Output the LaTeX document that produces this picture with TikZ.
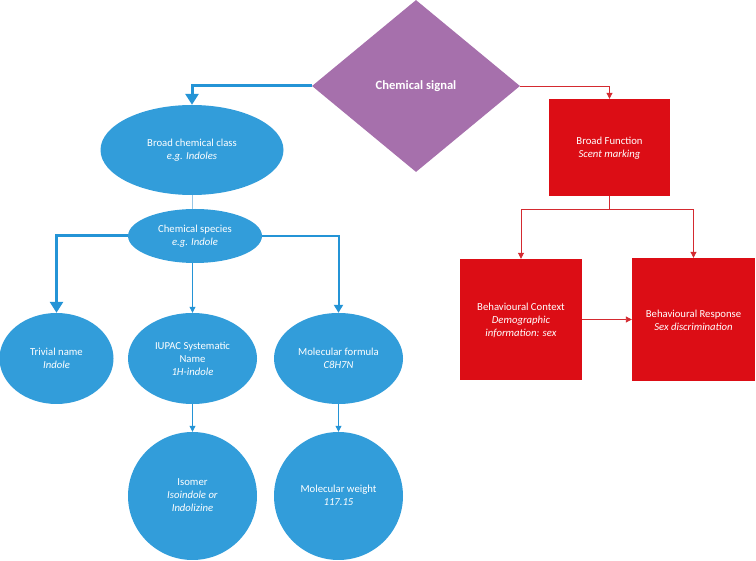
\documentclass[tikz,border=0pt]{standalone}
\usepackage{fontspec}
\setmainfont{Carlito}
\usetikzlibrary{shapes.geometric,arrows.meta}
\definecolor{cblue}{RGB}{50,157,218}
\definecolor{lblue}{RGB}{36,148,214}
\definecolor{pblue}{RGB}{150,198,230}
\definecolor{cpurple}{RGB}{166,112,172}
\definecolor{cred}{RGB}{220,13,21}
\definecolor{lred}{RGB}{212,42,48}
\tikzset{
  oval/.style={ellipse,fill=cblue,draw=none,inner sep=0pt},
  rbox/.style={rectangle,fill=cred,draw=none,inner sep=0pt},
  txt/.style={text=white,align=center,font=\fontsize{10.7}{13}\selectfont,inner sep=0pt},
  thickarrow/.style={draw=lblue,line width=3pt,-{Triangle[width=13pt,length=11pt]}},
  medarrow/.style={draw=lblue,line width=2pt,-{Triangle[width=9pt,length=8pt]}},
  thinarrow/.style={draw=lblue,line width=0.8pt,-{Triangle[width=6pt,length=6pt]}},
  redarrow/.style={draw=lred,line width=0.9pt,-{Triangle[width=6pt,length=6pt]}},
  redline/.style={draw=lred,line width=0.9pt},
}
\begin{document}
\begin{tikzpicture}[x=1pt,y=-1pt]
\useasboundingbox (0,0) rectangle (756,561);
% diamond
\node[diamond,fill=cpurple,inner sep=0pt,minimum width=208pt,minimum height=172pt] (sig) at (416,86) {};
\node[txt,font=\fontsize{12.6}{14}\selectfont\bfseries] (sigt) at (416,86) {Chemical signal};
% blue side
\node[oval,minimum width=183pt,minimum height=90pt] (broad) at (192,150) {};
\node[txt] (broadt) at (192,150.5) {Broad chemical class\\\textit{e.g. Indoles}};
\node[oval,minimum width=134pt,minimum height=54pt] (spec) at (195,236) {};
\node[txt] (spect) at (195,236.5) {Chemical species\\\textit{e.g. Indole}};
\node[oval,minimum width=114pt,minimum height=91pt] (triv) at (56.5,358.5) {};
\node[txt] (trivt) at (56.5,358.5) {Trivial name\\\textit{Indole}};
\node[oval,minimum width=129pt,minimum height=91pt] (iupac) at (192.5,358.5) {};
\node[txt] (iupact) at (192.5,359) {IUPAC Systematic\\Name\\\textit{1H-indole}};
\node[oval,minimum width=129pt,minimum height=91pt] (form) at (338.5,358.5) {};
\node[txt] (formt) at (338.5,358.5) {Molecular formula\\\textit{C8H7N}};
\node[oval,minimum width=129pt,minimum height=128pt] (iso) at (192.5,496) {};
\node[txt] (isot) at (192.5,495.5) {Isomer\\\textit{Isoindole or}\\\textit{Indolizine}};
\node[oval,minimum width=129pt,minimum height=128pt] (mw) at (338.5,496) {};
\node[txt] (mwt) at (338.5,495) {Molecular weight\\\textit{117.15}};
% red side
\node[rbox,minimum width=121pt,minimum height=97pt] (bf) at (609.5,147.5) {};
\node[txt] (bft) at (609.5,148.5) {Broad Function\\\textit{Scent marking}};
\node[rbox,minimum width=122pt,minimum height=121pt] (bc) at (521,319.5) {};
\node[txt] (bct) at (521,320) {Behavioural Context\\\textit{Demographic}\\\textit{information: sex}};
\node[rbox,minimum width=123pt,minimum height=123pt] (br) at (693.5,319.5) {};
\node[txt] (brt) at (693.5,320) {Behavioural Response\\\textit{Sex discrimination}};
% connectors blue
\draw[thickarrow] (sig.west) -| (broad.north);
\draw[draw=pblue,line width=1pt] (broad.south) -- (broad.south |- spec.north);
\draw[thickarrow] (spec.west) -| (triv.north);
\draw[medarrow] (spec.east) -| (form.north);
\draw[thinarrow] (spec.south -| iupac.north) -- (iupac.north);
\draw[thinarrow] (iupac.south) -- (iso.north);
\draw[thinarrow] (form.south) -- (mw.north);
% connectors red
\draw[redarrow] (sig.east) -| (bf.north);
\coordinate (split) at (609.5,209);
\draw[redline] (bf.south) -- (split);
\draw[redarrow] (split) -| (bc.north);
\draw[redarrow] (split) -| (br.north);
\draw[redarrow] (bc.east) -- (br.west);
\end{tikzpicture}
\end{document}
